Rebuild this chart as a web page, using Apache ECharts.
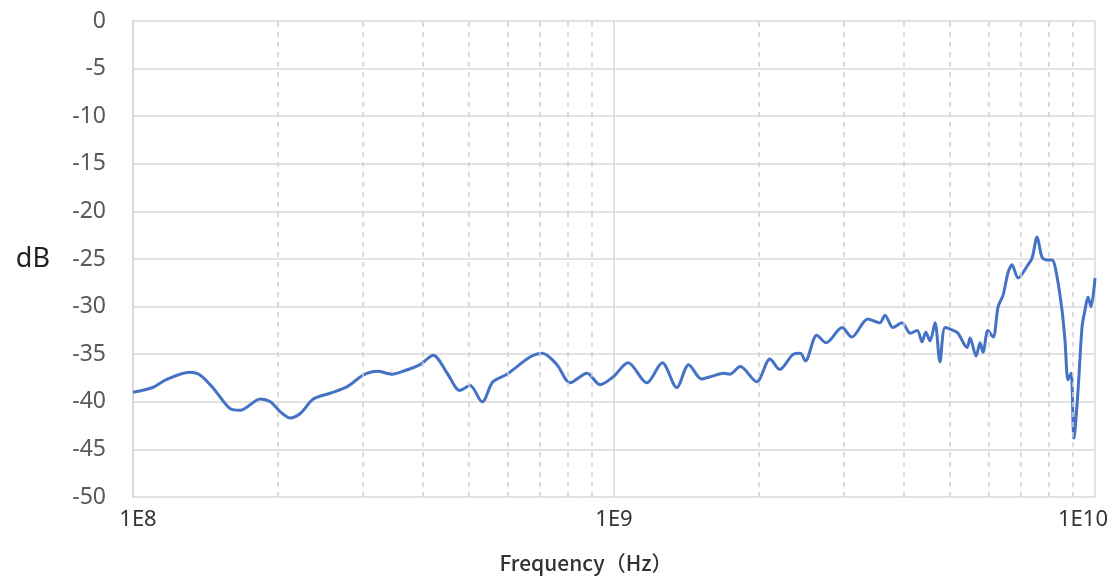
<!DOCTYPE html>
<html>
<head>
<meta charset="utf-8">
<title>dB vs Frequency</title>
<script src="https://cdn.jsdelivr.net/npm/echarts@6/dist/echarts.min.js"></script>
<style>
  html, body { margin: 0; padding: 0; background: #fff; }
  #chart { width: 1117px; height: 579px; }
</style>
</head>
<body>
<div id="chart"></div>
<script>
// 频率 (Hz)
var freqHz = [
  1.00e8, 1.10e8, 1.17e8, 1.31e8, 1.38e8, 1.47e8, 1.59e8, 1.67e8, 1.84e8, 1.93e8,
  2.02e8, 2.12e8, 2.23e8, 2.37e8, 2.57e8, 2.79e8, 3.01e8, 3.22e8, 3.46e8, 3.64e8,
  3.95e8, 4.21e8, 4.50e8, 4.78e8, 5.02e8, 5.32e8, 5.60e8, 5.99e8, 6.69e8, 7.09e8,
  7.61e8, 8.10e8, 8.79e8, 9.35e8, 9.95e8, 1.07e9, 1.17e9, 1.26e9, 1.35e9, 1.43e9,
  1.52e9, 1.60e9, 1.69e9, 1.74e9, 1.83e9, 1.98e9, 2.11e9, 2.21e9, 2.36e9, 2.44e9,
  2.50e9, 2.64e9, 2.76e9, 2.98e9, 3.12e9, 3.37e9, 3.57e9, 3.66e9, 3.80e9, 3.97e9,
  4.13e9, 4.27e9, 4.37e9, 4.45e9, 4.54e9, 4.65e9, 4.76e9, 4.88e9, 5.07e9, 5.19e9,
  5.42e9, 5.50e9, 5.66e9, 5.77e9, 5.85e9, 5.99e9, 6.14e9, 6.29e9, 6.44e9, 6.59e9,
  6.72e9, 6.92e9, 7.26e9, 7.40e9, 7.58e9, 7.76e9, 7.95e9, 8.14e9, 8.34e9, 8.54e9,
  8.66e9, 8.79e9, 8.92e9, 9.04e9, 9.22e9, 9.40e9, 9.53e9, 9.67e9, 9.81e9, 1.00e10
]
// 幅度 (dB)
var levelDb = [
  -39.0, -38.5, -37.7, -36.9, -37.2, -38.6, -40.7, -40.9, -39.7, -40.0,
  -41.0, -41.7, -41.2, -39.7, -39.1, -38.4, -37.2, -36.8, -37.1, -36.8,
  -36.1, -35.1, -37.0, -38.8, -38.3, -40.0, -37.9, -37.1, -35.3, -34.9,
  -36.1, -38.0, -37.0, -38.2, -37.4, -35.9, -38.0, -35.9, -38.5, -36.1,
  -37.6, -37.3, -37.0, -37.1, -36.3, -37.9, -35.5, -36.6, -35.0, -34.9,
  -35.7, -33.0, -33.8, -32.2, -33.2, -31.3, -31.7, -30.9, -32.2, -31.7,
  -32.8, -32.5, -33.7, -32.7, -33.6, -31.7, -35.8, -32.2, -32.5, -32.8,
  -34.3, -33.3, -35.2, -33.8, -34.8, -32.5, -33.2, -30.0, -28.8, -26.5,
  -25.6, -27.0, -25.6, -24.9, -22.7, -24.8, -25.1, -25.1, -26.9, -30.4,
  -33.5, -37.7, -37.0, -43.8, -38.8, -32.1, -30.4, -29.0, -30.0, -27.0
]
// 次网格线 (虚线) 位置
var minorGridHz = [
  2e8, 3e8, 4e8, 5e8, 6e8, 7e8, 8e8, 9e8,
  2e9, 3e9, 4e9, 5e9, 6e9, 7e9, 8e9, 9e9
]

var myChart = echarts.init(document.getElementById('chart'))
myChart.setOption({
  animation: false,
  grid: {
    left: 133,
    right: 22,
    top: 21,
    bottom: 82,
    containLabel: false,
    outerBoundsMode: 'none'
  },
  xAxis: {
    type: 'log',
    logBase: 10,
    min: 1e8,
    max: 1e10,
    name: 'Frequency（Hz）',
    nameLocation: 'middle',
    nameGap: 56,
    nameTextStyle: {
      fontFamily: 'Noto Sans CJK SC',
      fontSize: 21,
      fontWeight: 500,
      color: '#333',
      padding: [0, 56, 0, 0]
    },
    axisLine: { show: false },
    axisTick: { show: false },
    axisLabel: {
      margin: 12,
      fontFamily: 'Noto Sans',
      fontSize: 22,
      color: '#333',
      formatter: function (v) {
        var p = Math.round(Math.log10(v))
        if (p === 8) return '{first|1E' + p + '}'
        if (p === 10) return '{last|1E' + p + '}'
        return '1E' + p
      },
      rich: {
        first: { fontFamily: 'Noto Sans', fontSize: 22, color: '#333', padding: [0, 0, 0, 10] },
        last: { fontFamily: 'Noto Sans', fontSize: 22, color: '#333', padding: [0, 24, 0, 0] }
      }
    },
    splitLine: { show: true, lineStyle: { color: '#d9d9d9', width: 1.5 } }
  },
  yAxis: {
    type: 'value',
    min: -50,
    max: 0,
    interval: 5,
    name: 'dB',
    nameLocation: 'middle',
    nameRotate: 0,
    nameGap: 83,
    nameTextStyle: {
      fontFamily: 'Noto Sans',
      fontSize: 27,
      color: '#222'
    },
    axisLine: { show: true, lineStyle: { color: '#d9d9d9', width: 2 } },
    axisTick: { show: false },
    axisLabel: {
      margin: 27,
      fontFamily: 'Noto Sans',
      fontSize: 23,
      color: '#595959'
    },
    splitLine: { show: true, lineStyle: { color: '#d9d9d9', width: 1.5 } }
  },
  series: [
    {
      // 虚线次网格
      type: 'line',
      data: [],
      silent: true,
      z: 1,
      markLine: {
        silent: true,
        symbol: 'none',
        label: { show: false },
        lineStyle: { color: '#d0d0d0', type: [5, 5], width: 1.5 },
        data: minorGridHz.map(function (v) { return { xAxis: v } })
      }
    },
    {
      type: 'line',
      z: 3,
      showSymbol: false,
      smooth: 0.3,
      lineStyle: { color: '#4472C4', width: 3 },
      data: freqHz.map(function (f, i) { return [f, levelDb[i]] })
    }
  ]
})
</script>
</body>
</html>
